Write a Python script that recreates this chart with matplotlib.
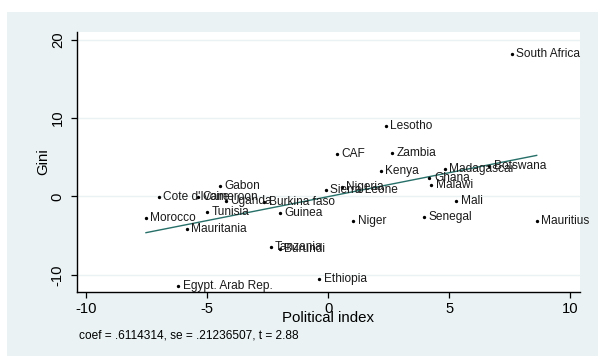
import numpy as np
import matplotlib
matplotlib.use("Agg")
import matplotlib.pyplot as plt
from matplotlib.patches import Rectangle

plt.rcParams["font.family"] = ["Liberation Sans", "DejaVu Sans"]

# Added-variable plot: residualised Gini vs residualised political index
countries = [
    "South Africa", "Lesotho", "CAF", "Zambia", "Kenya", "Madagascar",
    "Botswana", "Ghana", "Malawi", "Nigeria", "Sierra Leone", "Mali",
    "Senegal", "Niger", "Mauritius", "Ethiopia", "Gabon", "Cote d'Ivoire",
    "Cameroon", "Uganda", "Burkina faso", "Tunisia", "Morocco",
    "Mauritania", "Egypt. Arab Rep.", "Tanzania", "Burundi", "Guinea",
]
political_index = [
    7.59, 2.38, 0.37, 2.64, 2.18, 4.82,
    6.65, 4.18, 4.25, 0.55, -0.10, 5.28,
    3.95, 1.03, 8.61, -0.38, -4.48, -7.00,
    -5.37, -4.23, -2.65, -5.00, -7.53,
    -5.85, -6.20, -2.38, -2.00, -2.00,
]
gini = [
    18.19, 8.94, 5.45, 5.58, 3.19, 3.45,
    3.94, 2.42, 1.50, 1.25, 0.78, -0.64,
    -2.63, -3.10, -3.19, -10.51, 1.37, -0.13,
    -0.08, -0.60, -0.68, -1.99, -2.76,
    -4.13, -11.37, -6.45, -6.68, -2.12,
]
coef = 0.6114314
se = 0.21236507
tstat = 2.88

x_ticks = [-10, -5, 0, 5, 10]
y_ticks = [-10, 0, 10, 20]

bg = "#eaf2f3"
line_color = "#266f68"

fig = plt.figure(figsize=(5.98, 3.56), dpi=100, facecolor="white")
fig.patches.append(Rectangle((7 / 598, 0), 1, (356 - 12) / 356,
                             transform=fig.transFigure, facecolor=bg,
                             edgecolor="none", zorder=-10))

ax = fig.add_axes([77 / 598, (356 - 292) / 356, (580 - 77) / 598, (292 - 32) / 356])
ax.set_facecolor("white")

x = np.array(political_index)
y = np.array(gini)

# horizontal grid lines
for yt in y_ticks:
    ax.axhline(yt, color=bg, lw=1.0, zorder=0)

ax.plot(x, y, linestyle="none", marker="o", markersize=1.4,
        color="black", zorder=3)
for name, xi, yi in zip(countries, x, y):
    ax.annotate(name, (xi, yi), xytext=(3.2, 0), textcoords="offset points",
                ha="left", va="center", fontsize=8.6, color="#1a1a1a", zorder=4)

# fitted line over the range of the data
intercept = y.mean() - coef * x.mean()
xl = np.array([x.min(), x.max()])
ax.plot(xl, intercept + coef * xl, color=line_color, lw=1.0, zorder=2)

ax.set_xlim(-10.38, 10.4)
ax.set_ylim(-12.2, 21.0)
ax.set_xticks(x_ticks)
ax.set_yticks(y_ticks)
ax.set_xticklabels([str(v) for v in x_ticks], fontsize=10.6)
ax.set_yticklabels([str(v) for v in y_ticks], fontsize=10.6, rotation=90,
                   va="center")
ax.tick_params(axis="both", length=4.3, width=0.9, color="black")
ax.tick_params(axis="x", pad=3.2)
ax.tick_params(axis="y", pad=4.5)

for side in ("top", "right"):
    ax.spines[side].set_visible(False)
for side in ("left", "bottom"):
    ax.spines[side].set_linewidth(1.0)
    ax.spines[side].set_color("black")

fig.text(328 / 598, 1 - 318 / 356, "Political index", ha="center",
         va="center", fontsize=10.8)
fig.text(43 / 598, 1 - 162 / 356, "Gini", ha="center", va="center",
         rotation=90, fontsize=10.8)
fig.text(79 / 598, 1 - 335.7 / 356,
         f"coef = .{str(coef).split('.')[1]}, se = .{str(se).split('.')[1]}, t = {tstat:.2f}",
         ha="left", va="center", fontsize=8.6)

fig.savefig("out.png", dpi=100, facecolor=fig.get_facecolor())
